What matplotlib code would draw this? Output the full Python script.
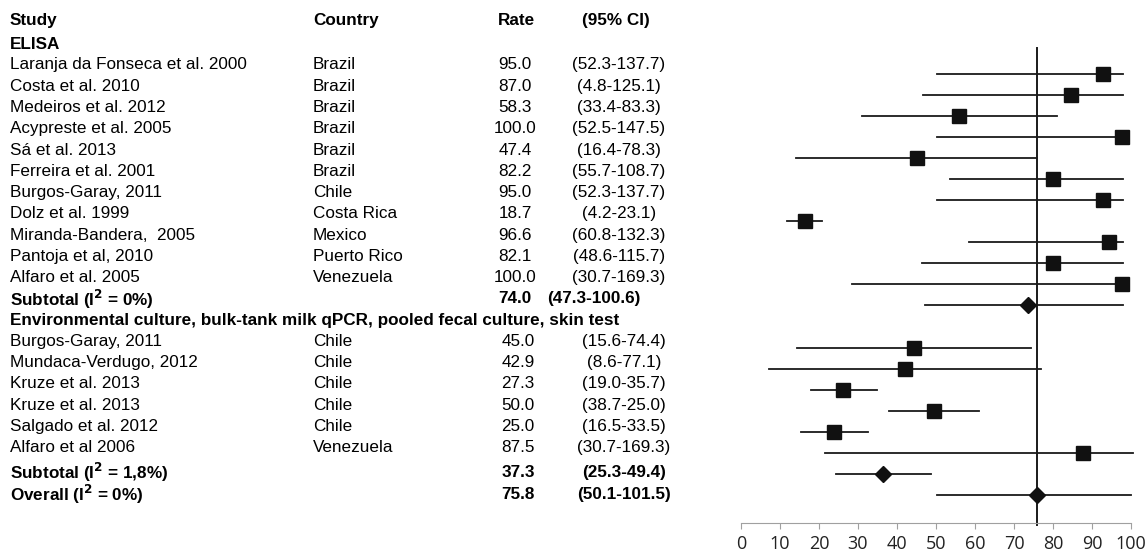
import matplotlib
matplotlib.use("Agg")
import matplotlib.pyplot as plt

# table text
studies_1 = ["Laranja da Fonseca et al. 2000", "Costa et al. 2010", "Medeiros et al. 2012",
             "Acypreste et al. 2005", "Sá et al. 2013", "Ferreira et al. 2001",
             "Burgos-Garay, 2011", "Dolz et al. 1999", "Miranda-Bandera,  2005",
             "Pantoja et al, 2010", "Alfaro et al. 2005"]
countries_1 = ["Brazil", "Brazil", "Brazil", "Brazil", "Brazil", "Brazil", "Chile",
               "Costa Rica", "Mexico", "Puerto Rico", "Venezuela"]
rate_1 = [95.0, 87.0, 58.3, 100.0, 47.4, 82.2, 95.0, 18.7, 96.6, 82.1, 100.0]
ci_1 = ["52.3-137.7", "4.8-125.1", "33.4-83.3", "52.5-147.5", "16.4-78.3", "55.7-108.7",
        "52.3-137.7", "4.2-23.1", "60.8-132.3", "48.6-115.7", "30.7-169.3"]

studies_2 = ["Burgos-Garay, 2011", "Mundaca-Verdugo, 2012", "Kruze et al. 2013",
             "Kruze et al. 2013", "Salgado et al. 2012", "Alfaro et al 2006"]
countries_2 = ["Chile", "Chile", "Chile", "Chile", "Chile", "Venezuela"]
rate_2 = [45.0, 42.9, 27.3, 50.0, 25.0, 87.5]
ci_2 = ["15.6-74.4", "8.6-77.1", "19.0-35.7", "38.7-25.0", "16.5-33.5", "30.7-169.3"]

sub_1 = (74.0, "47.3-100.6")
sub_2 = (37.3, "25.3-49.4")
overall = (75.8, "50.1-101.5")

# marks as drawn in the plot (estimate, lower, upper)
est_1 = [92.7, 84.7, 56.0, 97.8, 45.0, 79.9, 92.7, 16.3, 94.3, 79.9, 97.8]
lo_1 = [50.2, 46.6, 31.1, 50.2, 14.1, 53.5, 50.2, 11.9, 58.5, 46.3, 28.5]
hi_1 = [97.9, 97.9, 81.0, 98.5, 76.0, 97.9, 97.9, 20.7, 97.9, 97.9, 98.0]
est_2 = [44.3, 42.1, 26.2, 49.4, 23.9, 87.6]
lo_2 = [14.4, 7.3, 17.9, 38.0, 15.3, 21.6]
hi_2 = [74.3, 77.0, 34.8, 60.9, 32.6, 100.4]
sub_marks = [(73.7, 47.3, 97.9), (36.5, 24.3, 48.7), (75.8, 50.2, 99.9)]

W, H = 1145, 551
fig = plt.figure(figsize=(W / 100, H / 100), dpi=100)

# ---- text table ----
axt = fig.add_axes([0, 0, 732 / W, 1])
axt.set_xlim(0, 732)
axt.set_ylim(22.86, -3.057)
axt.axis("off")
fs = 12.3
tf = "Liberation Sans"

def row(i, study, country, rate, ci, bold=False, ci_x=619, rate_x=515):
    w = "bold" if bold else "normal"
    axt.text(10, i, study, fontsize=fs, family=tf, weight=w, va="center")
    if country:
        axt.text(313, i, country, fontsize=fs, family=tf, weight=w, va="center")
    axt.text(rate_x, i, f"{rate:.1f}", fontsize=fs, family=tf, weight=w, va="center", ha="center")
    axt.text(ci_x, i, f"({ci})", fontsize=fs, family=tf, weight=w, va="center", ha="center")

axt.text(10, -2.1, "Study", fontsize=fs, family=tf, weight="bold", va="center")
axt.text(313, -2.1, "Country", fontsize=fs, family=tf, weight="bold", va="center")
axt.text(516, -2.1, "Rate", fontsize=fs, family=tf, weight="bold", va="center", ha="center")
axt.text(616, -2.1, "(95% CI)", fontsize=fs, family=tf, weight="bold", va="center", ha="center")
axt.text(10, -0.95, "ELISA", fontsize=fs, family=tf, weight="bold", va="center")

for k in range(len(studies_1)):
    row(k, studies_1[k], countries_1[k], rate_1[k], ci_1[k])
n1 = len(studies_1)
axt.text(10, n1 + 0.05, r"Subtotal (I$^\mathbf{2}$ = 0%)", fontsize=fs, family=tf, weight="bold", va="center")
axt.text(515, n1, f"{sub_1[0]:.1f}", fontsize=fs, family=tf, weight="bold", va="center", ha="center")
axt.text(547, n1, f"({sub_1[1]})", fontsize=fs, family=tf, weight="bold", va="center")
axt.text(10, n1 + 1, "Environmental culture, bulk-tank milk qPCR, pooled fecal culture, skin test",
         fontsize=fs, family=tf, weight="bold", va="center")
for k in range(len(studies_2)):
    row(n1 + 2 + k, studies_2[k], countries_2[k], rate_2[k], ci_2[k], ci_x=624, rate_x=518)
n2 = n1 + 2 + len(studies_2)
row(n2 + 0.15, r"Subtotal (I$^\mathbf{2}$ = 1,8%)", "", sub_2[0], sub_2[1], bold=True, ci_x=624, rate_x=518)
row(n2 + 1.2, r"Overall (I$^\mathbf{2}$ = 0%)", "", overall[0], overall[1], bold=True, ci_x=624, rate_x=518)

# ---- forest plot ----
ax = fig.add_axes([741 / W, (H - 522.7) / H, 390 / W, 474.7 / H])
ax.set_xlim(0, 100)
ax.set_ylim(21.33, -1.24)
for s in ["top", "right", "left"]:
    ax.spines[s].set_visible(False)
ax.spines["bottom"].set_color("#a0a0a0")
ax.set_yticks([])
ax.set_xticks(range(0, 101, 10))
ax.tick_params(axis="x", colors="#a0a0a0", labelcolor="#222222", length=4, width=0.8,
               pad=5, labelsize=13)
for lab in ax.get_xticklabels():
    lab.set_family("Open Sans")

lc = "#1a1a1a"
ax.plot([overall[0], overall[0]], [-1.24, 21.45], color=lc, lw=1.4, clip_on=False, zorder=1)

ys_1 = list(range(n1))
ys_2 = list(range(n1 + 2, n2))
for y, e, l, h in zip(ys_1 + ys_2, est_1 + est_2, lo_1 + lo_2, hi_1 + hi_2):
    ax.plot([l, h], [y, y], color=lc, lw=1.3, clip_on=False, zorder=2)
    ax.plot(e, y, marker="s", ms=9.6, color="#111111", clip_on=False, zorder=3)
for y, (e, l, h) in zip([n1, n2, n2 + 1], sub_marks):
    ax.plot([l, h], [y, y], color=lc, lw=1.3, clip_on=False, zorder=2)
    ax.plot(e, y, marker="D", ms=7.8, color="#111111", clip_on=False, zorder=3)

fig.savefig("out.png", dpi=100)
